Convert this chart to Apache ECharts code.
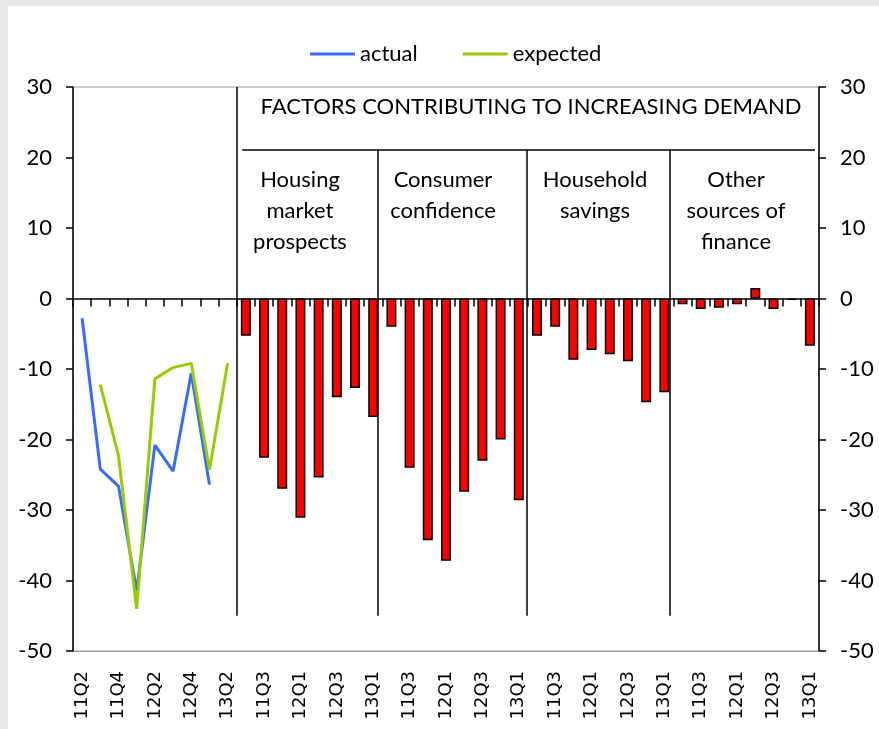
<!DOCTYPE html>
<html>
<head>
<meta charset="utf-8">
<script src="https://cdn.jsdelivr.net/npm/echarts@6/dist/echarts.min.js"></script>
<style>
  html, body { margin: 0; padding: 0; background: #fff; }
  #chart { width: 879px; height: 729px; }
</style>
</head>
<body>
<div id="chart"></div>
<script>
// quarters for the survey line section and for each factor group
const leftQuarters = ['11Q2', '11Q3', '11Q4', '12Q1', '12Q2', '12Q3', '12Q4', '13Q1', '13Q2']
const groupQuarters = ['11Q2', '11Q3', '11Q4', '12Q1', '12Q2', '12Q3', '12Q4', '13Q1']

const actual = [-2.8, -24.2, -26.6, -41.5, -20.8, -24.5, -10.6, -26.4, null]
const expected = [null, -12.2, -22.3, -44, -11.4, -9.8, -9.2, -24.3, -9.2]

const housing = [-5.3, -22.6, -27, -31.1, -25.4, -14, -12.7, -16.8]
const confidence = [-4, -24, -34.3, -37.2, -27.4, -23, -20, -28.6]
const savings = [-5.3, -4, -8.7, -7.3, -7.9, -8.9, -14.7, -13.3]
const other = [-0.8, -1.5, -1.3, -0.8, 1.5, -1.5, -0.2, -6.7]

const yTicks = [-50, -40, -30, -20, -10, 0, 10, 20, 30]

const groups = [housing, confidence, savings, other]
const categories = leftQuarters.concat(...groups.map(() => groupQuarters))
const pad = n => new Array(n).fill(null)
const lineLen = categories.length - leftQuarters.length
const barData = pad(leftQuarters.length).concat(...groups)

const font = 'Lato'
const black = '#000'

const chart = echarts.init(document.getElementById('chart'))

const yAxisBase = {
  type: 'value',
  min: yTicks[0],
  max: yTicks[yTicks.length - 1],
  interval: 10,
  axisLine: { show: true, lineStyle: { color: black, width: 1.5 } },
  axisTick: { show: true, length: 7, lineStyle: { color: black, width: 1.5 } },
  axisLabel: { color: black, fontSize: 22, fontFamily: font, margin: 21 },
  splitLine: { show: false }
}

function vline(x, y1, y2) {
  return [{ coord: [x, y1] }, { coord: [x, y2] }]
}

chart.setOption({
  backgroundColor: '#fff',
  animation: false,
  graphic: [
    { type: 'rect', left: 0, top: 0, shape: { width: 879, height: 6 }, style: { fill: '#e8e8e8' }, z: -10 },
    { type: 'rect', left: 0, top: 0, shape: { width: 8, height: 729 }, style: { fill: '#e8e8e8' }, z: -10 },
    { type: 'text', x: 531, y: 96, style: { text: 'FACTORS CONTRIBUTING TO INCREASING DEMAND', fill: black, font: '22px Lato', align: 'center' } },
    { type: 'text', x: 300, y: 164, style: { text: 'Housing\nmarket\nprospects', fill: black, font: '22px Lato', align: 'center', lineHeight: 31 } },
    { type: 'text', x: 443, y: 164, style: { text: 'Consumer\nconfidence', fill: black, font: '22px Lato', align: 'center', lineHeight: 31 } },
    { type: 'text', x: 595, y: 164, style: { text: 'Household\nsavings', fill: black, font: '22px Lato', align: 'center', lineHeight: 31 } },
    { type: 'text', x: 736, y: 164, style: { text: 'Other\nsources of\nfinance', fill: black, font: '22px Lato', align: 'center', lineHeight: 31 } }
  ],
  legend: {
    left: 305,
    top: 38,
    itemWidth: 45,
    itemHeight: 3,
    itemGap: 45,
    icon: 'rect',
    textStyle: { color: black, fontSize: 22, fontFamily: font },
    data: ['actual', 'expected']
  },
  grid: { left: 73, right: 60, top: 87, bottom: 78, show: true, borderColor: '#999', borderWidth: 1 },
  xAxis: [
    {
      type: 'category',
      data: categories,
      axisLine: { onZero: true, lineStyle: { color: black, width: 1.5 } },
      axisTick: { show: true, interval: 0, length: 8, lineStyle: { color: black, width: 1.5 } },
      axisLabel: { show: false }
    },
    {
      type: 'category',
      data: categories,
      position: 'bottom',
      axisLine: { onZero: false, lineStyle: { color: '#999', width: 1 } },
      axisTick: { show: false },
      axisLabel: { interval: 1, rotate: 90, color: black, fontSize: 18, fontFamily: 'DejaVu Sans', margin: 20 }
    },
    { type: 'value', min: 0, max: categories.length, show: false }
  ],
  yAxis: [
    Object.assign({}, yAxisBase, { position: 'left' }),
    Object.assign({}, yAxisBase, { position: 'right' })
  ],
  series: [
    {
      name: 'factors',
      type: 'bar',
      xAxisIndex: 0,
      barWidth: 10,
      itemStyle: { color: '#ff0000', borderColor: black, borderWidth: 1.5 },
      data: barData
    },
    {
      name: 'actual',
      type: 'line',
      xAxisIndex: 0,
      symbol: 'none',
      color: '#3a6bff',
      lineStyle: { width: 3 },
      data: actual.concat(pad(lineLen))
    },
    {
      name: 'expected',
      type: 'line',
      xAxisIndex: 0,
      symbol: 'none',
      color: '#99cc00',
      lineStyle: { width: 3 },
      data: expected.concat(pad(lineLen))
    },
    {
      name: 'dividers',
      type: 'scatter',
      xAxisIndex: 2,
      symbolSize: 0,
      data: [],
      markLine: {
        silent: true,
        symbol: 'none',
        label: { show: false },
        lineStyle: { color: black, width: 1.5, type: 'solid' },
        data: [
          vline(9, 30, -45),
          vline(16.77, 21.05, -45),
          vline(24.95, 21.05, -45),
          vline(32.81, 21.05, -45),
          [{ coord: [9.3, 21.05] }, { coord: [40.78, 21.05] }]
        ]
      }
    }
  ]
})
</script>
</body>
</html>
